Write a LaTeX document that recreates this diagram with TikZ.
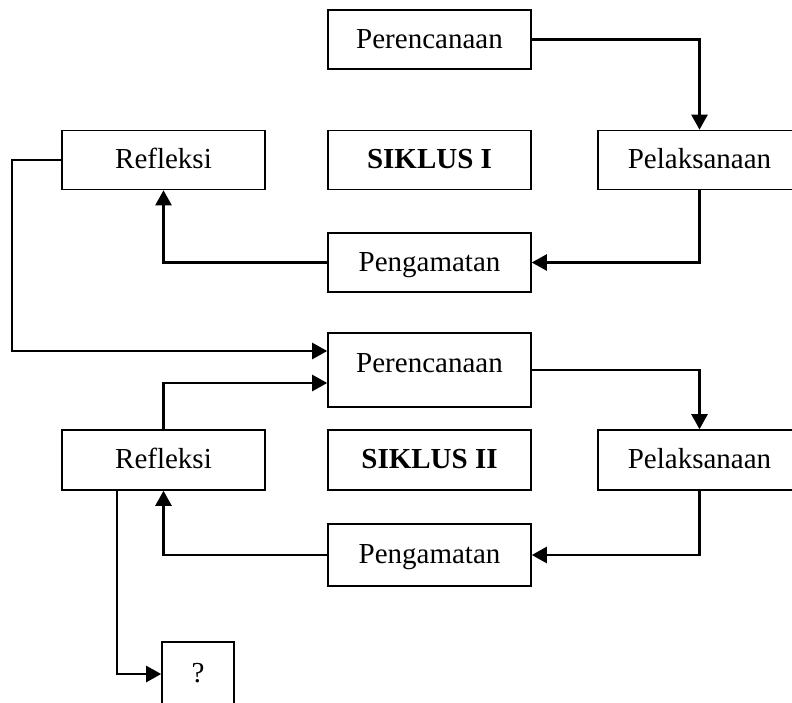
\documentclass[tikz,border=0pt]{standalone}
\usepackage{fontspec}
\setmainfont{Liberation Serif}
\usetikzlibrary{positioning,arrows.meta}

\begin{document}
\begin{tikzpicture}[x=0.5pt,y=-0.5pt,
  blok/.style={draw,line width=0.8pt,minimum width=101.5pt,minimum height=29.5pt,inner sep=0pt,text height=10pt,text depth=1.5pt,font=\fontsize{14.5}{17}\selectfont},
  panah/.style={-{Triangle[length=7.5pt,width=8pt]},line width=1.2pt}]
  \useasboundingbox (0,0) rectangle (792,702);
  % siklus I
  \node[blok] (per1) at (429.5,39.5) {Perencanaan};
  \node[blok] (ref1) at (163.5,160) {Refleksi};
  \node[blok,font=\fontsize{14.5}{17}\selectfont\bfseries] (sik1) at (429.5,160) {SIKLUS I};
  \node[blok] (pel1) at (699.5,160) {Pelaksanaan};
  \node[blok] (pen1) at (429.5,262.5) {Pengamatan};
  % siklus II
  \node[blok,minimum height=37pt,text depth=8pt] (per2) at (429.5,370) {Perencanaan};
  \node[blok,minimum height=30pt] (ref2) at (163.5,460) {Refleksi};
  \node[blok,minimum height=30pt,font=\fontsize{14.5}{17}\selectfont\bfseries] (sik2) at (429.5,460) {SIKLUS II};
  \node[blok,minimum height=30pt] (pel2) at (699.5,460) {Pelaksanaan};
  \node[blok,minimum height=31pt] (pen2) at (429.5,555) {Pengamatan};
  \node[blok,minimum width=36pt,minimum height=32pt] (tanya) at (198,674) {?};

  \draw[panah] (per1.east) -| (pel1.north);
  \draw[panah] (pel1.south) |- (pen1.east);
  \draw[panah] (pen1.west) -| (ref1.south);
  \draw[panah] (ref1.west) -- ++(-49.5,0) |- ([yshift=9.5pt]per2.west);
  \draw[panah] (ref2.north) |- ([yshift=-6.5pt]per2.west);
  \draw[panah] (per2.east) -| (pel2.north);
  \draw[panah] (pel2.south) |- (pen2.east);
  \draw[panah] (pen2.west) -| (ref2.south);
  \draw[panah] ([xshift=-23.25pt]ref2.south) |- (tanya.west);
\end{tikzpicture}
\end{document}
